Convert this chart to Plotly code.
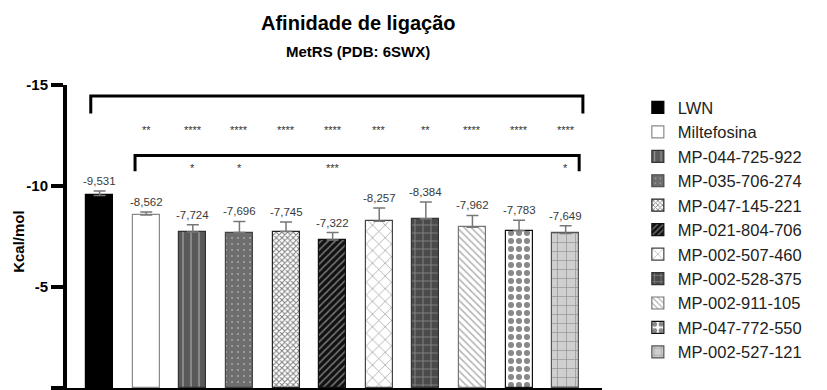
import plotly.graph_objects as go

# Binding affinity (kcal/mol) of each ligand against MetRS (PDB: 6SWX)
names = ["LWN", "Miltefosina", "MP-044-725-922", "MP-035-706-274", "MP-047-145-221",
         "MP-021-804-706", "MP-002-507-460", "MP-002-528-375", "MP-002-911-105",
         "MP-047-772-550", "MP-002-527-121"]
affinity = [-9.531, -8.562, -7.724, -7.696, -7.745, -7.322, -8.257, -8.384, -7.962, -7.783, -7.649]
sd = [0.22, 0.15, 0.36, 0.55, 0.47, 0.37, 0.66, 0.82, 0.58, 0.52, 0.38]

# significance vs LWN (upper bracket) and vs Miltefosina (lower bracket)
sig_vs_lwn = ["", "**", "****", "****", "****", "****", "***", "**", "****", "****", "****"]
sig_vs_milt = ["", "", "*", "*", "", "***", "", "", "", "", "*"]

y_ticks = [0, -5, -10, -15]
y_ticktext = ["0", "-5", "-10", "-15"]

FONT = "Arial, Liberation Sans, sans-serif"

# fill styles: (background, pattern shape, foreground, pattern size, solidity, outline)
styles = [
    ("#000000", "", "#000000", 8, 0.2, "#000000"),
    ("#ffffff", "", "#ffffff", 8, 0.2, "#8a8a8a"),
    ("#5a5a5a", "|", "#d8d8d8", 8, 0.18, "#333333"),
    ("#6e6e6e", ".", "#e8e8e8", 6, 0.08, "#444444"),
    ("#ffffff", "x", "#000000", 4, 0.45, "#222222"),
    ("#111111", "/", "#dddddd", 5, 0.3, "#111111"),
    ("#ffffff", "x", "#333333", 9, 0.15, "#444444"),
    ("#4a4a4a", "+", "#c8c8c8", 8, 0.2, "#333333"),
    ("#ffffff", "\\", "#666666", 5, 0.3, "#777777"),
    ("#ffffff", ".", "#111111", 8, 0.45, "#111111"),
    ("#cfcfcf", "+", "#555555", 9, 0.15, "#555555"),
]

fig = go.Figure()
for i, (name, v, e) in enumerate(zip(names, affinity, sd)):
    bg, shape, fg, size, sol, outline = styles[i]
    marker = dict(color=bg, line=dict(color=outline, width=1.2))
    if shape:
        marker["pattern"] = dict(shape=shape, fgcolor=fg, bgcolor=bg, size=size,
                                 solidity=sol, fillmode="overlay")
    fig.add_trace(go.Bar(
        x=[i], y=[v], name=name, width=0.58, marker=marker,
        error_y=dict(type="data", symmetric=False, array=[0], arrayminus=[e],
                     color="#777777", thickness=1.5, width=6),
    ))
    # value label above the error bar
    fig.add_annotation(x=i, y=v - e, text=f"{v:.3f}".replace(".", ","),
                       showarrow=False, yanchor="bottom", yshift=2,
                       font=dict(family=FONT, size=11.5, color="#3a3a3a"))

# significance stars
for i, s in enumerate(sig_vs_lwn):
    if s:
        fig.add_annotation(x=i, y=-12.75, text=s, showarrow=False, yanchor="middle",
                           font=dict(family=FONT, size=11, color="#333333"))
for i, s in enumerate(sig_vs_milt):
    if s:
        fig.add_annotation(x=i, y=-10.9, text=s, showarrow=False, yanchor="middle",
                           font=dict(family=FONT, size=11, color="#333333"))

# comparison brackets
fig.add_shape(type="path", path="M -0.19,-13.59 L -0.19,-14.45 L 10.37,-14.45 L 10.37,-13.59",
              xref="x", yref="y", line=dict(color="black", width=3))
fig.add_shape(type="path", path="M 0.76,-10.73 L 0.76,-11.51 L 10.29,-11.51 L 10.29,-10.73",
              xref="x", yref="y", line=dict(color="black", width=3))

# titles
fig.add_annotation(x=0.544, y=1.203, xref="paper", yref="paper", showarrow=False,
                   xanchor="center", yanchor="middle",
                   text="<b>Afinidade de ligação</b>",
                   font=dict(family=FONT, size=20, color="black"))
fig.add_annotation(x=0.544, y=1.109, xref="paper", yref="paper", showarrow=False,
                   xanchor="center", yanchor="middle",
                   text="<b>MetRS (PDB: 6SWX)</b>",
                   font=dict(family=FONT, size=15, color="black"))
# y-axis title
fig.add_annotation(x=-0.092, y=0.485, xref="paper", yref="paper", showarrow=False,
                   xanchor="center", yanchor="middle", textangle=-90,
                   text="<b>Kcal/mol</b>",
                   font=dict(family=FONT, size=15, color="black"))

fig.update_layout(
    template="none",
    width=827, height=390,
    margin=dict(l=67, r=225, t=85, b=2),
    paper_bgcolor="white", plot_bgcolor="white",
    barmode="overlay", bargap=0,
    showlegend=True,
    legend=dict(x=1.067, xanchor="left", y=0.983, yanchor="top",
                font=dict(family=FONT, size=16.5, color="#222222"),
                bgcolor="rgba(0,0,0,0)", traceorder="normal"),
    xaxis=dict(range=[-0.7, 10.78], showline=True, linecolor="black", linewidth=4,
               showticklabels=False, ticks="", showgrid=False, zeroline=False),
    yaxis=dict(range=[0, -15], tickvals=y_ticks, ticktext=y_ticktext,
               showline=True, linecolor="black", linewidth=4,
               ticks="outside", ticklen=12, tickwidth=4, tickcolor="black",
               showgrid=False, zeroline=False,
               tickfont=dict(family=FONT, size=15, color="black", weight="bold")),
)

fig.write_html("out.html")
